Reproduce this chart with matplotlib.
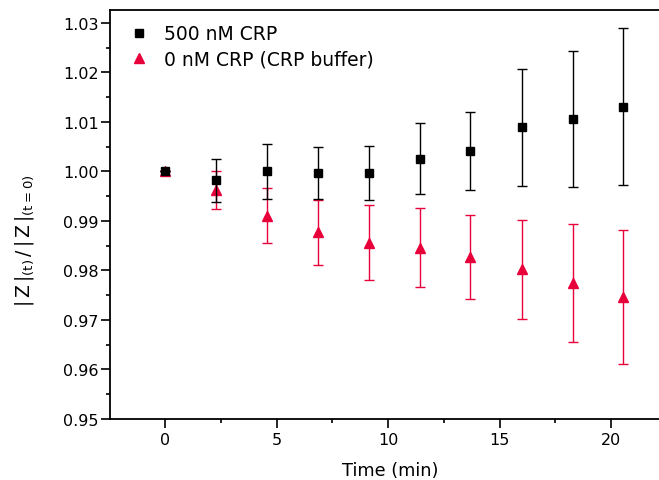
import matplotlib
matplotlib.use("Agg")
import matplotlib.pyplot as plt
from matplotlib.ticker import MultipleLocator
from matplotlib.lines import Line2D

plt.rcParams['font.family'] = ['DejaVu Sans']
plt.rcParams['mathtext.fontset'] = 'custom'
plt.rcParams['mathtext.rm'] = 'DejaVu Sans'
plt.rcParams['mathtext.it'] = 'DejaVu Sans'

time_min = [0, 2.28, 4.56, 6.86, 9.13, 11.42, 13.69, 16.0, 18.28, 20.55]

crp_500 = [1.000, 0.9982, 1.0000, 0.9997, 0.9997, 1.0026, 1.0041, 1.0089, 1.0106, 1.0131]
crp_500_err = [0.0, 0.0043, 0.0055, 0.0052, 0.0055, 0.0071, 0.0079, 0.0118, 0.0137, 0.0158]

crp_0 = [1.000, 0.9962, 0.9911, 0.9877, 0.9856, 0.9846, 0.9828, 0.9802, 0.9774, 0.9746]
crp_0_err = [0.0, 0.0038, 0.0055, 0.0066, 0.0076, 0.0080, 0.0085, 0.0100, 0.0119, 0.0135]

series_labels = ['500 nM CRP', '0 nM CRP (CRP buffer)']

red = '#e8003a'

fig = plt.figure(figsize=(6.59, 4.81), dpi=100)
ax = fig.add_axes([0.1669, 0.1268, 0.8331, 0.8503])

ax.errorbar(time_min, crp_500, yerr=crp_500_err, fmt='s', color='black',
            ms=6, capsize=3.5, elinewidth=1.0, capthick=1.0, zorder=3)
ax.errorbar(time_min, crp_0, yerr=crp_0_err, fmt='^', color=red,
            ms=7.5, capsize=3.5, elinewidth=1.0, capthick=1.0, zorder=2)

ax.set_xlim(-2.47, 22.15)
ax.set_ylim(0.95, 1.0326)
ax.xaxis.set_major_locator(MultipleLocator(5))
ax.xaxis.set_minor_locator(MultipleLocator(2.5))
ax.yaxis.set_major_locator(MultipleLocator(0.01))
ax.yaxis.set_minor_locator(MultipleLocator(0.005))
ax.yaxis.set_major_formatter(plt.FormatStrFormatter('%.2f'))

ax.spines['right'].set_visible(False)
for s in ('left', 'bottom', 'top'):
    ax.spines[s].set_linewidth(1.3)

ax.tick_params(which='both', direction='out', top=False, right=False,
               width=1.2, labelsize=11.5, colors='black')
ax.tick_params(which='major', length=6.5)
ax.tick_params(which='minor', length=3)
ax.tick_params(axis='y', which='major', pad=1.5)
ax.tick_params(axis='x', which='major', pad=3)

ax.set_xlabel('Time (min)', fontsize=12.8)
ax.xaxis.set_label_coords(0.51, -0.103)
ax.set_ylabel(r'$|\,\mathrm{Z}\,|_{(t)}\,/\,|\,\mathrm{Z}\,|_{(t=0)}$', fontsize=13.5)
ax.yaxis.set_label_coords(-0.135, 0.438)

handles = [
    Line2D([], [], ls='none', marker='s', color='black', ms=6),
    Line2D([], [], ls='none', marker='^', color=red, ms=7.5),
]
ax.legend(handles, series_labels, loc='upper left', frameon=False, fontsize=13.5,
          handletextpad=0.55, handlelength=1.6, borderaxespad=0.35,
          labelspacing=0.35, bbox_to_anchor=(0.0, 1.0))

fig.savefig('out.png', dpi=100)
